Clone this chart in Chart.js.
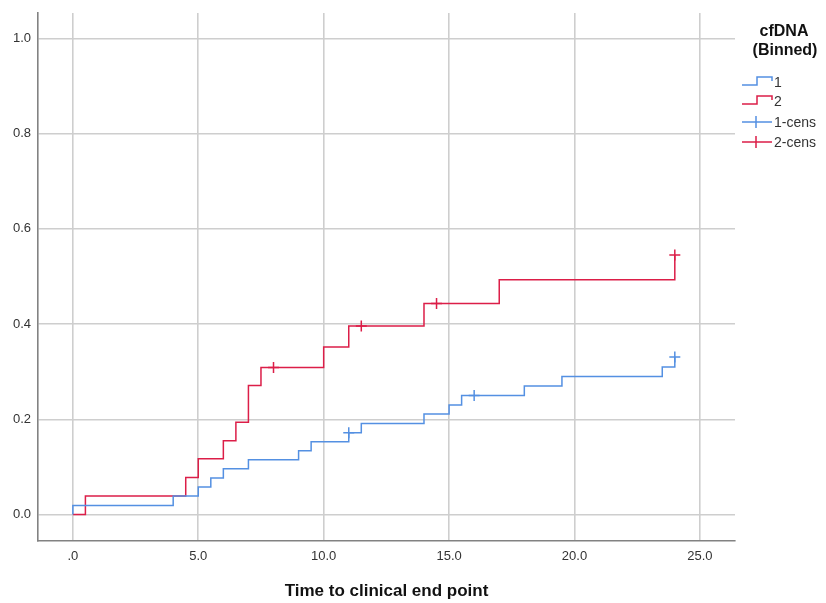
<!DOCTYPE html>
<html>
<head>
<meta charset="utf-8">
<script src="https://cdn.jsdelivr.net/npm/chart.js@4.4.1/dist/chart.umd.min.js"></script>
<style>
  body { margin: 0; background: #fff; }
  canvas { display: block; }
</style>
</head>
<body>
<canvas id="grafHazard" width="826" height="603"></canvas>
<script>
// dados
const blueTimes = [0, 0, 4, 5, 5.5, 6, 7, 9, 9.5, 11, 11.5, 14, 15, 15.5, 18, 19.5, 23.5, 24];
const blueHaz   = [0, 0.019, 0.039, 0.058, 0.077, 0.096, 0.115, 0.134, 0.153, 0.172, 0.191, 0.211, 0.230, 0.250, 0.270, 0.290, 0.310, 0.331];
const redTimes  = [0, 0.5, 4.5, 5, 6, 6.5, 7, 7.5, 10, 11, 14, 17, 24];
const redHaz    = [0, 0.039, 0.078, 0.117, 0.155, 0.194, 0.271, 0.309, 0.352, 0.396, 0.443, 0.493, 0.545];

const blueCensT = [11, 16, 24];
const blueCensH = [0.172, 0.250, 0.331];
const redCensT  = [8, 11.5, 14.5, 24];
const redCensH  = [0.309, 0.396, 0.443, 0.545];

const xTicks = [0, 5, 10, 15, 20, 25];
const yTicks = [0, 0.2, 0.4, 0.6, 0.8, 1.0];
const legendLabels = ['1', '2', '1-cens', '2-cens'];

const azul = 'rgb(84, 144, 226)';
const vermelho = 'rgb(220, 30, 72)';

const pts = (xs, ys) => xs.map((x, i) => ({ x: x, y: ys[i] }));

// legenda desenhada a mao (estilo SPSS)
const legendaSpss = {
  id: 'legendaSpss',
  afterDraw(chart) {
    const c = chart.ctx;
    c.save();
    c.fillStyle = '#111';
    c.font = 'bold 16px "Liberation Sans", Arial, sans-serif';
    c.textAlign = 'center';
    c.textBaseline = 'middle';
    c.fillText('cfDNA', 784, 32);
    c.fillText('(Binned)', 785, 51);

    c.font = '14px "Liberation Sans", Arial, sans-serif';
    c.textAlign = 'left';
    const ys = [82, 101, 122, 142];
    const cores = [azul, vermelho, azul, vermelho];
    legendLabels.forEach((lab, i) => {
      const y = ys[i];
      c.strokeStyle = cores[i];
      c.lineWidth = 1.5;
      c.beginPath();
      if (i < 2) {
        c.moveTo(742, y + 3);
        c.lineTo(757, y + 3);
        c.lineTo(757, y - 5);
        c.lineTo(772, y - 5);
        c.lineTo(772, y - 1);
      } else {
        c.moveTo(742, y);
        c.lineTo(772, y);
        c.moveTo(756, y - 6);
        c.lineTo(756, y + 6);
      }
      c.stroke();
      c.fillStyle = '#333';
      c.fillText(lab, 774, y + 1);
    });
    c.restore();
  }
};

const fonteTick = { size: 13, family: '"Liberation Sans", Arial, sans-serif' };

const ctx = document.getElementById('grafHazard').getContext('2d');

const myChart = new Chart(ctx, {
  type: 'line',
  data: {
    datasets: [
      {
        label: '1',
        data: pts(blueTimes, blueHaz),
        stepped: 'before',
        borderColor: azul,
        borderWidth: 1.5,
        pointRadius: 0,
        fill: false
      },
      {
        label: '2',
        data: pts(redTimes, redHaz),
        stepped: 'before',
        borderColor: vermelho,
        borderWidth: 1.5,
        pointRadius: 0,
        fill: false
      },
      {
        label: '1-cens',
        data: pts(blueCensT, blueCensH),
        showLine: false,
        pointStyle: 'cross',
        pointRadius: 5.5,
        pointBorderWidth: 1.5,
        borderColor: azul,
        backgroundColor: azul
      },
      {
        label: '2-cens',
        data: pts(redCensT, redCensH),
        showLine: false,
        pointStyle: 'cross',
        pointRadius: 5.5,
        pointBorderWidth: 1.5,
        borderColor: vermelho,
        backgroundColor: vermelho
      }
    ]
  },
  options: {
    responsive: false,
    animation: false,
    layout: { padding: { top: 13, right: 91, left: 0, bottom: 0 } },
    plugins: {
      legend: { display: false },
      tooltip: { enabled: false }
    },
    scales: {
      x: {
        type: 'linear',
        min: -1.39,
        max: 26.4,
        afterBuildTicks: (s) => { s.ticks = xTicks.map(v => ({ value: v })); },
        afterFit: (s) => { s.height = 62; s.paddingLeft = 0; s.paddingRight = 0; },
        grid: { color: 'rgb(206,206,206)', lineWidth: 1.6, drawTicks: false },
        border: { display: true, color: 'rgb(130,130,130)', width: 1.6 },
        ticks: {
          padding: 8,
          color: '#333',
          font: fonteTick,
          callback: (v) => v === 0 ? '.0' : v.toFixed(1)
        },
        title: {
          display: true,
          text: 'Time to clinical end point',
          color: '#111',
          font: { size: 17, weight: 'bold', family: '"Liberation Sans", Arial, sans-serif' },
          padding: { top: 0, bottom: 1 }
        }
      },
      y: {
        min: -0.0555,
        max: 1.0532,
        afterBuildTicks: (s) => { s.ticks = yTicks.map(v => ({ value: v })); },
        afterFit: (s) => { s.width = 38; s.paddingTop = 0; s.paddingBottom = 0; },
        grid: { color: 'rgb(206,206,206)', lineWidth: 1.6, drawTicks: false },
        border: { display: true, color: 'rgb(130,130,130)', width: 1.6 },
        ticks: {
          padding: 7,
          color: '#333',
          font: fonteTick,
          callback: (v) => v.toFixed(1)
        }
      }
    }
  },
  plugins: [legendaSpss]
});
</script>
</body>
</html>
